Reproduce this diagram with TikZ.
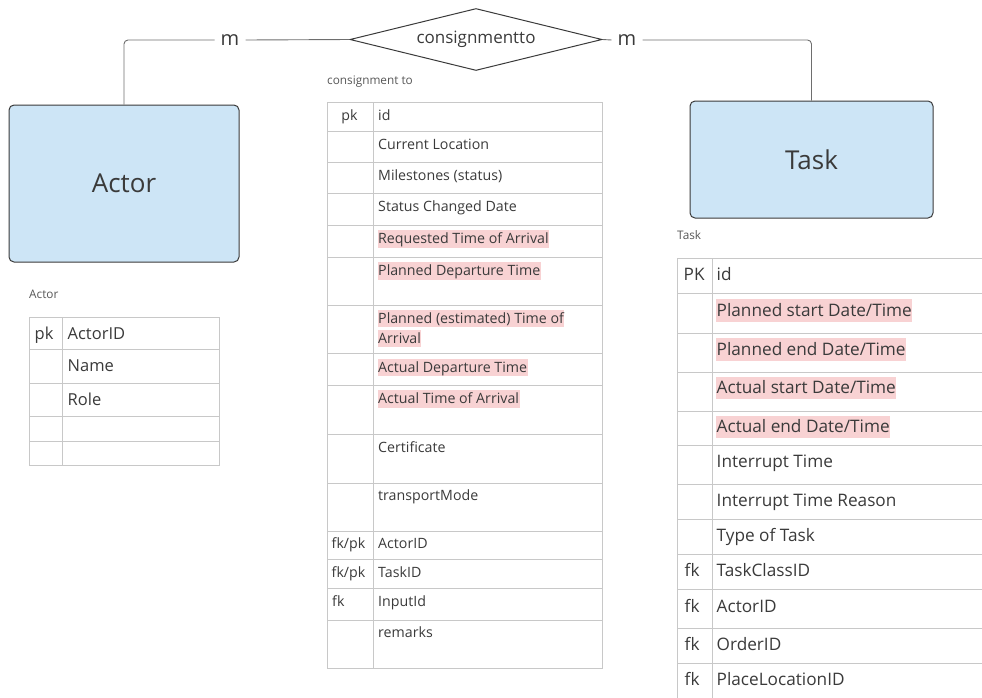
\documentclass[tikz,border=0pt]{standalone}
\usepackage{fontspec}
\setmainfont{Open Sans}
\usetikzlibrary{shapes.geometric}
\definecolor{boxblue}{HTML}{CDE5F6}
\definecolor{boxline}{HTML}{3A3A3A}
\definecolor{gridc}{HTML}{C8C8C8}
\definecolor{txt}{HTML}{3A3A3A}
\definecolor{hl}{HTML}{F8D2D3}
\definecolor{connc}{HTML}{6E6E6E}
\begin{document}
\begin{tikzpicture}[x=1pt,y=-1pt,
 entity/.style={draw=boxline, line width=1pt, fill=boxblue, rounded corners=5pt, inner sep=0, font=\fontsize{26}{30}\selectfont, text=txt},
 relshape/.style={draw=boxline, line width=1pt, diamond, aspect=4, minimum width=252pt, minimum height=62pt, inner sep=0, font=\fontsize{17}{20}\selectfont, text=txt},
 card/.style={inner xsep=6pt, inner ysep=0, font=\fontsize{20}{24}\selectfont, text=txt},
 connline/.style={draw=connc, line width=0.9pt, rounded corners=4pt},
 gridline/.style={draw=gridc, line width=0.9pt},
 caption/.style={anchor=west, inner sep=0, font=\fontsize{11.8}{14}\selectfont, text=txt!85},
 mtxt/.style={anchor=west, inner xsep=0.5pt, inner ysep=0, font=\fontsize{14.2}{17}\selectfont, text=txt, text height=13.4pt, text depth=4.2pt},
 atxt/.style={anchor=west, inner xsep=0.5pt, inner ysep=0, font=\fontsize{16.5}{20}\selectfont, text=txt, text height=16.5pt, text depth=5.5pt},
 btxt/.style={anchor=west, inner xsep=0.5pt, inner ysep=0, font=\fontsize{17.2}{20}\selectfont, text=txt, text height=17pt, text depth=5.8pt},
 hi/.style={fill=hl}
]
\useasboundingbox (0,0) rectangle (982,697);
\begin{scope}
\clip (0,0) rectangle (982,697);

% entities and relationship
\node[entity, minimum width=230pt, minimum height=157pt] (actor) at (124,183.5) {Actor};
\node[entity, minimum width=243pt, minimum height=117pt] (task) at (811.5,159.5) {Task};
\node[relshape] (rel) at (476,39.5) {consignmentto};
\node[card] (m1) at (230,40) {m};
\node[card] (m2) at (627,40) {m};
\draw[connline] (actor.north) |- (m1.west);
\draw[connline] (m1.east) -- (rel.west);
\draw[connline] (rel.east) -- (m2.west);
\draw[connline] (m2.east) -| (task.north);

% Actor table
\node[caption] (capA) at (29,294) {Actor};
\draw[gridline] (29,317) rectangle (219,465);
\draw[gridline] (62,317) -- (62,465);
\foreach \yy in {349,383,416,441} \draw[gridline] (29,\yy) -- (219,\yy);
\node[atxt] (a0k) at (34,333.5) {pk};
\node[atxt] (a0) at (67,333.5) {ActorID};
\node[atxt] (a1) at (67,366) {Name};
\node[atxt] (a2) at (67,399.5) {Role};

% consignment to table
\node[caption] (capC) at (327,82) {consignment to};
\draw[gridline] (327,102) rectangle (602,668);
\draw[gridline] (373,102) -- (373,668);
\foreach \yy in {131,162,193,225,257,305,353,385,434,483,531,559,588,620} \draw[gridline] (327,\yy) -- (602,\yy);
\node[mtxt, anchor=center] (c0k) at (349.5,115.5) {pk};
\node[mtxt] (c0) at (377.5,115.5) {id};
\node[mtxt] (c1) at (377.5,144.5) {Current Location};
\node[mtxt] (c2) at (377.5,175.5) {Milestones (status)};
\node[mtxt] (c3) at (377.5,206.5) {Status Changed Date};
\node[mtxt, hi] (c4) at (377.5,239) {Requested Time of Arrival};
\node[mtxt, hi] (c5) at (377.5,271) {Planned Departure Time};
\node[mtxt, hi] (c6a) at (377.5,318.5) {Planned (estimated) Time of};
\node[mtxt, hi] (c6b) at (377.5,338.5) {Arrival};
\node[mtxt, hi] (c7) at (377.5,367.5) {Actual Departure Time};
\node[mtxt, hi] (c8) at (377.5,399) {Actual Time of Arrival};
\node[mtxt] (c9) at (377.5,447.5) {Certificate};
\node[mtxt] (c10) at (377.5,496) {transportMode};
\node[mtxt, anchor=center] (c11k) at (348.5,543.5) {fk/pk};
\node[mtxt] (c11) at (377.5,543.5) {ActorID};
\node[mtxt, anchor=center] (c12k) at (348.5,572.5) {fk/pk};
\node[mtxt] (c12) at (377.5,572.5) {TaskID};
\node[mtxt] (c13k) at (331.5,601.5) {fk};
\node[mtxt] (c13) at (377.5,601.5) {InputId};
\node[mtxt] (c14) at (377.5,633) {remarks};

% Task table
\node[caption] (capT) at (677,235) {Task};
\draw[gridline] (677,720) -- (677,258) -- (995,258);
\draw[gridline] (712,258) -- (712,720);
\foreach \yy in {293,333,372,411,445,484,519,554,589,628,663} \draw[gridline] (677,\yy) -- (995,\yy);
\node[btxt] (t0k) at (683,275) {PK};
\node[btxt] (t0) at (716,275) {id};
\node[btxt, hi] (t1) at (716,310.5) {Planned start Date/Time};
\node[btxt, hi] (t2) at (716,349.5) {Planned end Date/Time};
\node[btxt, hi] (t3) at (716,388) {Actual start Date/Time};
\node[btxt, hi] (t4) at (716,427) {Actual end Date/Time};
\node[btxt] (t5) at (716,462) {Interrupt Time};
\node[btxt] (t6) at (716,501) {Interrupt Time Reason};
\node[btxt] (t7) at (716,536) {Type of Task};
\node[btxt] (t8k) at (684,571) {fk};
\node[btxt] (t8) at (716,571) {TaskClassID};
\node[btxt] (t9k) at (684,606.5) {fk};
\node[btxt] (t9) at (716,606.5) {ActorID};
\node[btxt] (t10k) at (684,645) {fk};
\node[btxt] (t10) at (716,645) {OrderID};
\node[btxt] (t11k) at (684,680) {fk};
\node[btxt] (t11) at (716,680) {PlaceLocationID};
\end{scope}
\end{tikzpicture}
\end{document}
